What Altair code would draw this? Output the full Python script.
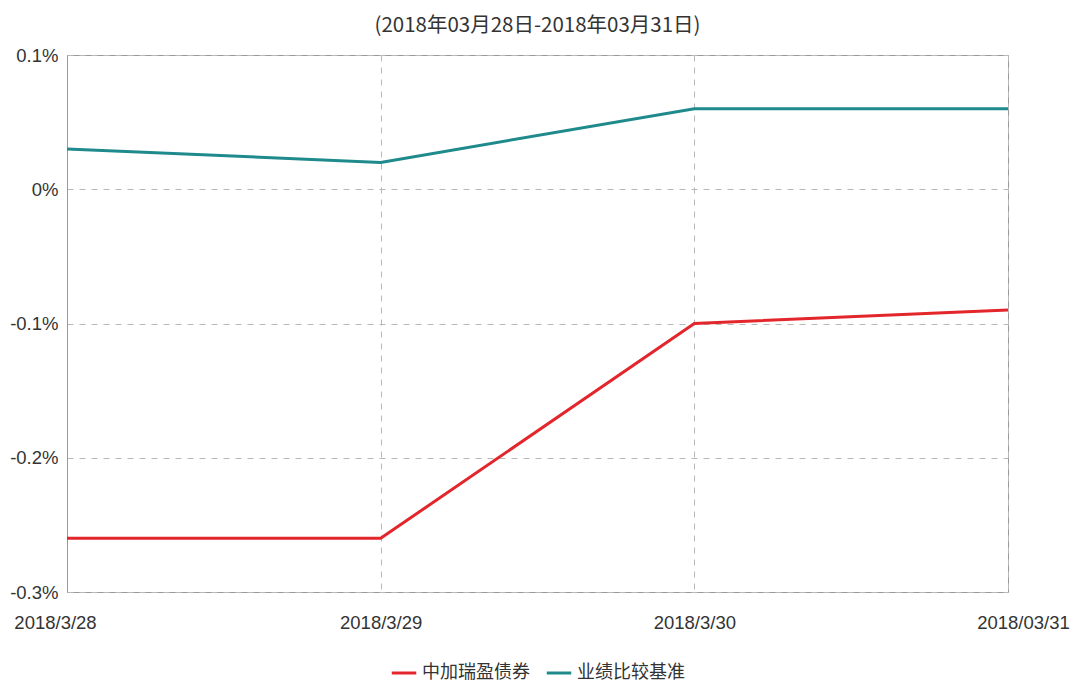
import altair as alt
import pandas as pd

dates = ["2018/3/28", "2018/3/29", "2018/3/30", "2018/3/31"]
fund_name = "中加瑞盈债券"
bench_name = "业绩比较基准"
fund_values = [-0.26, -0.26, -0.10, -0.09]
bench_values = [0.03, 0.02, 0.06, 0.06]
y_ticks = [-0.3, -0.2, -0.1, 0, 0.1]
title_text = "(2018年03月28日-2018年03月31日)"

rows = []
for d, v in zip(dates, fund_values):
    rows.append({"date": d, "series": fund_name, "value": v})
for d, v in zip(dates, bench_values):
    rows.append({"date": d, "series": bench_name, "value": v})
df = pd.DataFrame(rows)

FONT = "Liberation Sans, Arial, sans-serif"
CJK = "Noto Sans CJK SC, sans-serif"

chart = alt.Chart(df).mark_line(strokeWidth=3).encode(
    x=alt.X(
        "date:O",
        sort=dates,
        scale=alt.Scale(type="point", padding=0),
        axis=alt.Axis(
            title=None,
            labelAngle=0,
            labelFont=FONT,
            labelFontSize=18.5,
            labelColor="#333333",
            labelPadding=21,
            ticks=False,
            domain=False,
            grid=True,
            gridDash=[6, 6],
            gridColor="#b8b8b8",
            labelExpr="datum.value == '2018/3/31' ? '2018/03/31' : datum.value",
            labelOffset={
                "condition": [
                    {"test": "datum.value == '2018/3/31'", "value": 15},
                    {"test": "datum.value == '2018/3/28'", "value": -12},
                ],
                "value": 0,
            },
        ),
    ),
    y=alt.Y(
        "value:Q",
        scale=alt.Scale(domain=[-0.3, 0.1], nice=False, zero=False),
        axis=alt.Axis(
            title=None,
            values=y_ticks,
            labelExpr="datum.value + '%'",
            labelFont=FONT,
            labelFontSize=18.5,
            labelColor="#333333",
            labelPadding=9,
            ticks=False,
            domain=True,
            domainColor="#999999",
            grid=True,
            gridDash=[6, 6],
            gridColor="#b8b8b8",
        ),
    ),
    color=alt.Color(
        "series:N",
        sort=[fund_name, bench_name],
        scale=alt.Scale(domain=[fund_name, bench_name], range=["#e3262b", "#1f8a8c"]),
        legend=alt.Legend(
            title=None,
            orient="none",
            legendX=323,
            legendY=604,
            direction="horizontal",
            symbolType="stroke",
            symbolStrokeWidth=3,
            symbolSize=600,
            labelFont=CJK,
            labelFontSize=18,
            labelColor="#333333",
            columnPadding=10,
        ),
    ),
).properties(
    width=941,
    height=537,
    title=alt.TitleParams(
        text=title_text,
        font=CJK,
        fontSize=20.5,
        fontWeight="normal",
        color="#333333",
        anchor="middle",
        offset=10,
    ),
    padding={"left": 59, "top": 47, "right": 66, "bottom": 92},
    autosize=alt.AutoSizeParams(type="none"),
).configure_view(
    stroke="#999999",
    strokeWidth=1,
)

chart.save("out.html", embed_options={"renderer": "svg", "actions": False})
